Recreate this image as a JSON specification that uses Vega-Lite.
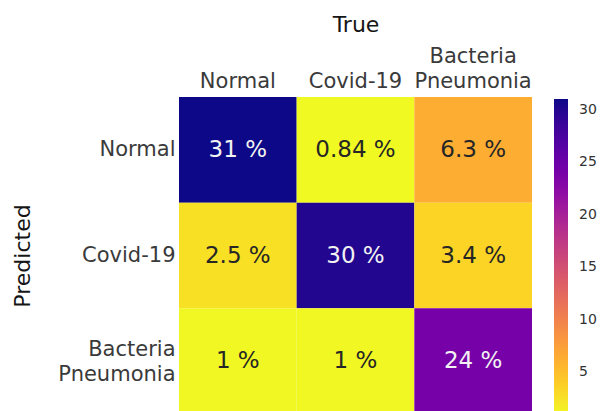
{
  "$schema": "https://vega.github.io/schema/vega-lite/v6.json",
  "width": 353,
  "height": 317,
  "autosize": {"type": "none"},
  "padding": {"left": 179, "top": 97, "right": 69, "bottom": 0},
  "background": "white",
  "config": {
    "font": "DejaVu Sans",
    "view": {"stroke": null}
  },
  "data": {
    "values": [
      {"true": "Normal", "predicted": "Normal", "value": 31},
      {"true": "Covid-19", "predicted": "Normal", "value": 0.84},
      {"true": "Bacteria Pneumonia", "predicted": "Normal", "value": 6.3},
      {"true": "Normal", "predicted": "Covid-19", "value": 2.5},
      {"true": "Covid-19", "predicted": "Covid-19", "value": 30},
      {"true": "Bacteria Pneumonia", "predicted": "Covid-19", "value": 3.4},
      {"true": "Normal", "predicted": "Bacteria Pneumonia", "value": 1},
      {"true": "Covid-19", "predicted": "Bacteria Pneumonia", "value": 1},
      {"true": "Bacteria Pneumonia", "predicted": "Bacteria Pneumonia", "value": 24}
    ]
  },
  "encoding": {
    "x": {
      "field": "true",
      "type": "nominal",
      "sort": ["Normal", "Covid-19", "Bacteria Pneumonia"],
      "scale": {"paddingInner": 0, "paddingOuter": 0},
      "title": "True",
      "axis": {
        "orient": "top",
        "labelAngle": 0,
        "domain": false,
        "ticks": false,
        "tickSize": 0,
        "labelExpr": "split(datum.label, ' ')",
        "labelFontSize": 21,
        "labelLineHeight": 25,
        "labelPadding": {"condition": {"test": "datum.value == 'Bacteria Pneumonia'", "value": 31}, "value": 6},
        "labelColor": "#3a3a3a",
        "labelLimit": 300,
        "titleFontSize": 22,
        "titleFontWeight": "normal",
        "titleColor": "#151515",
        "titlePadding": 9
      }
    },
    "y": {
      "field": "predicted",
      "type": "nominal",
      "sort": ["Normal", "Covid-19", "Bacteria Pneumonia"],
      "scale": {"paddingInner": 0, "paddingOuter": 0},
      "title": "Predicted",
      "axis": {
        "orient": "left",
        "domain": false,
        "ticks": false,
        "tickSize": 0,
        "labelExpr": "split(datum.label, ' ')",
        "labelFontSize": 21,
        "labelLineHeight": 25,
        "labelPadding": 4,
        "labelOffset": {"condition": {"test": "datum.value == 'Bacteria Pneumonia'", "value": -11}, "value": 0},
        "labelColor": "#3a3a3a",
        "labelLimit": 300,
        "titleFontSize": 22,
        "titleFontWeight": "normal",
        "titleColor": "#151515",
        "titlePadding": 23
      }
    }
  },
  "layer": [
    {
      "mark": {"type": "rect"},
      "encoding": {
        "color": {
          "field": "value",
          "type": "quantitative",
          "scale": {"scheme": "plasma", "reverse": true, "domain": [0.84, 31], "nice": false, "zero": false},
          "legend": {
            "orient": "none",
            "legendX": 375,
            "legendY": 2,
            "direction": "vertical",
            "title": null,
            "padding": 0,
            "gradientLength": 317,
            "gradientThickness": 14,
            "gradientStrokeWidth": 0,
            "values": [5, 10, 15, 20, 25, 30],
            "labelOverlap": false,
            "labelFlush": false,
            "labelFontSize": 14,
            "labelOffset": 11,
            "labelColor": "#333333"
          }
        }
      }
    },
    {
      "transform": [
        {"calculate": "format(datum.value, '.2~g') + ' %'", "as": "label"}
      ],
      "mark": {"type": "text", "fontSize": 23, "baseline": "middle", "align": "center"},
      "encoding": {
        "text": {"field": "label", "type": "nominal"},
        "color": {
          "condition": {"test": "datum.value > 15", "value": "#f2f2f2"},
          "value": "#262626"
        }
      }
    }
  ]
}
